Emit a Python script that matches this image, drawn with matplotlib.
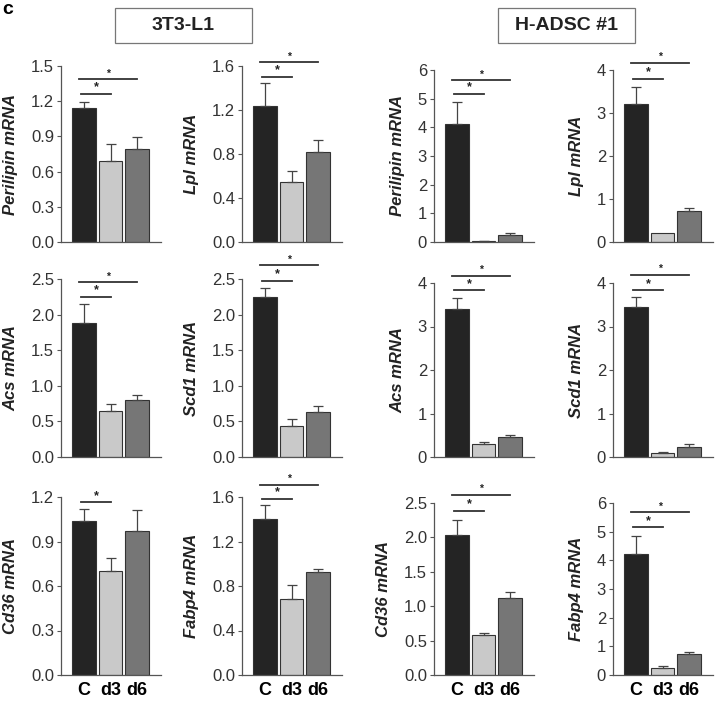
import numpy as np
import matplotlib
matplotlib.use('Agg')
import matplotlib.pyplot as plt
from matplotlib.patches import Rectangle

plt.rcParams['font.family'] = ['Liberation Sans', 'DejaVu Sans']

# Data (mean and upper error, relative mRNA)
groups = ['C', 'd3', 'd6']
genes = ['Perilipin', 'Lpl', 'Acs', 'Scd1', 'Cd36', 'Fabp4']

mean_3t3 = [[1.14, 0.69, 0.79],
            [1.24, 0.55, 0.82],
            [1.88, 0.65, 0.80],
            [2.25, 0.43, 0.63],
            [1.04, 0.70, 0.97],
            [1.40, 0.68, 0.93]]
err_3t3 = [[0.05, 0.145, 0.105],
           [0.205, 0.095, 0.11],
           [0.27, 0.09, 0.065],
           [0.125, 0.10, 0.085],
           [0.08, 0.09, 0.145],
           [0.13, 0.127, 0.024]]

mean_hadsc = [[4.12, 0.04, 0.25],
              [3.21, 0.20, 0.71],
              [3.41, 0.31, 0.45],
              [3.44, 0.10, 0.22],
              [2.04, 0.585, 1.12],
              [4.23, 0.26, 0.72]]
err_hadsc = [[0.75, 0.01, 0.05],
             [0.39, 0.0, 0.08],
             [0.24, 0.03, 0.065],
             [0.24, 0.02, 0.07],
             [0.22, 0.03, 0.08],
             [0.63, 0.07, 0.07]]

# y axis: (max, step, decimals)
yaxis_3t3 = [(1.5, 0.3, 1), (1.6, 0.4, 1), (2.5, 0.5, 1),
             (2.5, 0.5, 1), (1.2, 0.3, 1), (1.6, 0.4, 1)]
yaxis_hadsc = [(6, 1, 0), (4, 1, 0), (4, 1, 0),
               (4, 1, 0), (2.5, 0.5, 1), (6, 1, 0)]

# significance bars: list of (end group index, height in axes fraction)
sig_3t3 = [[(1, 0.84), (2, 0.925)],
           [(1, 0.94), (2, 1.023)],
           [(1, 0.90), (2, 0.983)],
           [(1, 0.99), (2, 1.079)],
           [(1, 0.97)],
           [(1, 0.99), (2, 1.069)]]
sig_hadsc = [[(1, 0.86), (2, 0.94)],
             [(1, 0.95), (2, 1.043)],
             [(1, 0.958), (2, 1.042)],
             [(1, 0.958), (2, 1.048)],
             [(1, 0.955), (2, 1.048)],
             [(1, 0.858), (2, 0.948)]]

bar_colors = ['#242424', '#c9c9c9', '#767676']
W, H = 715, 701

fig = plt.figure(figsize=(W / 100, H / 100), dpi=100)

col_left = [61, 242, 434, 613]
rows_left = [(66, 242), (279, 457), (497, 675)]
rows_right = [(70, 242), (283, 457), (503, 675)]


def draw_panel(ax, means, errs, yax, sigs, gene, show_x):
    x = np.arange(len(groups))
    ax.bar(x, means, width=0.9, color=bar_colors, edgecolor='#333333',
           linewidth=0.8, zorder=2)
    for xi, m, e in zip(x, means, errs):
        if e > 0:
            ax.errorbar(xi, m, yerr=[[0], [e]], fmt='none', ecolor='#444444',
                        elinewidth=0.9, capsize=3.5, capthick=0.9, zorder=3)
    ymax, step, dec = yax
    ticks = np.arange(0, ymax + step / 2, step)
    ax.set_ylim(0, ymax)
    ax.set_yticks(ticks)
    ax.set_yticklabels([f'{t:.{dec}f}' for t in ticks])
    ax.set_xlim(-0.865, 2.9)
    for sp in ['top', 'right']:
        ax.spines[sp].set_visible(False)
    for sp in ['left', 'bottom']:
        ax.spines[sp].set_color('#555555')
        ax.spines[sp].set_linewidth(0.9)
    ax.tick_params(axis='y', direction='out', length=3, width=0.8,
                   color='#555555', labelsize=12, labelcolor='#333333', pad=2)
    ax.set_xticks(x)
    if show_x:
        ax.set_xticklabels(groups, fontsize=13, fontweight='bold')
        ax.tick_params(axis='x', length=0, pad=5)
    else:
        ax.set_xticklabels([])
        ax.tick_params(axis='x', length=0)
    ax.set_ylabel(gene + ' mRNA', fontsize=12, fontstyle='italic',
                  fontweight='bold', color='#222222', labelpad=9)
    tr = ax.get_xaxis_transform()
    for end, h in sigs:
        x0 = -0.1 if end == 1 else -0.2
        ax.plot([x0, end], [h, h], color='#333333', lw=1.3, transform=tr,
                clip_on=False)
        ax.text((x0 + end) / 2, h + 0.003, '*', transform=tr, ha='center',
                va='bottom', fontsize=9 if end == 1 else 7.5, fontweight='bold',
                color='#222222')


for i, gene in enumerate(genes):
    r, c = divmod(i, 2)
    for block, means, errs, yaxes, sigs, rows in [
            (0, mean_3t3, err_3t3, yaxis_3t3, sig_3t3, rows_left),
            (1, mean_hadsc, err_hadsc, yaxis_hadsc, sig_hadsc, rows_right)]:
        col = block * 2 + c
        top, bot = rows[r]
        left = col_left[col]
        ax = fig.add_axes([left / W, 1 - bot / H, 100 / W, (bot - top) / H])
        draw_panel(ax, means[i], errs[i], yaxes[i], sigs[i], gene, r == 2)

# cell line title boxes
for (x0, x1), label in [((115, 252), '3T3-L1'), ((498, 635), 'H-ADSC #1')]:
    fig.patches.append(Rectangle((x0 / W, 1 - 43 / H), (x1 - x0) / W, 35 / H,
                                 transform=fig.transFigure, fill=False,
                                 edgecolor='#777777', linewidth=0.9))
    fig.text((x0 + x1) / 2 / W, 1 - 25.5 / H, label, ha='center', va='center',
             fontsize=14, fontweight='bold', color='#222222')

fig.text(2 / W, 1 - 10 / H, 'c', ha='left', va='center', fontsize=14,
         fontweight='bold')

fig.savefig('out.png', dpi=100)
